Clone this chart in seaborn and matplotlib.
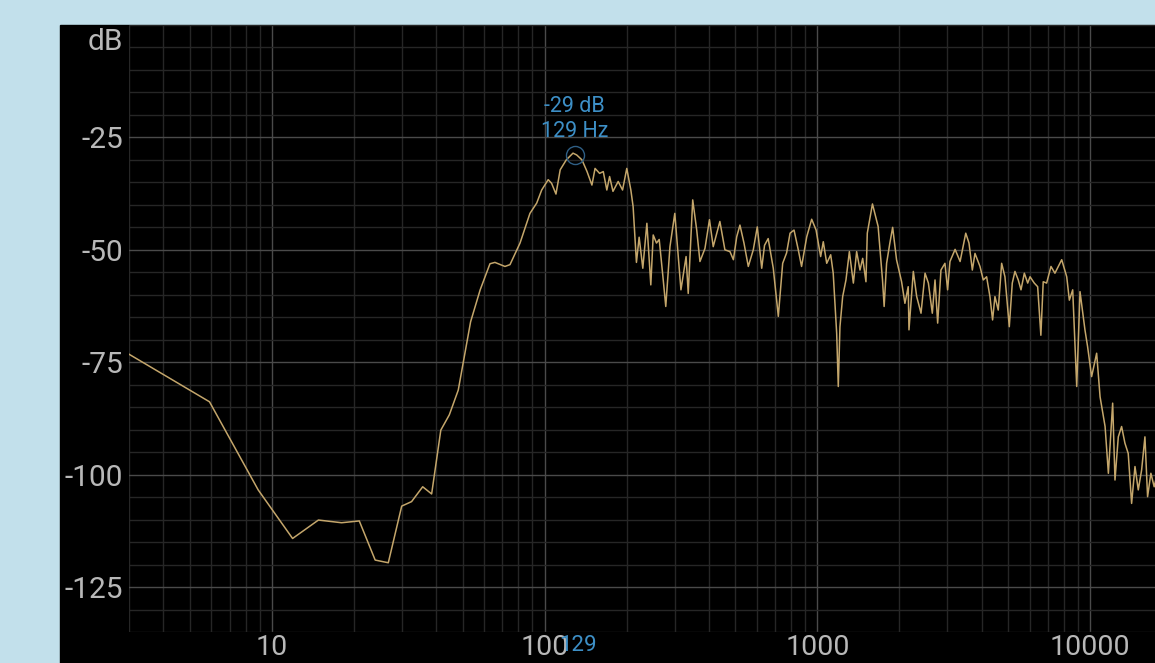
import matplotlib
matplotlib.use("Agg")
import matplotlib.pyplot as plt
from matplotlib.patches import Rectangle
from matplotlib.ticker import LogLocator, MultipleLocator, NullFormatter, FixedLocator
import seaborn as sns

# spectrum (Hz, dB)
freq_hz = [
    2.93, 5.9, 8.9, 11.9, 14.8, 18.0, 20.9, 23.9, 26.7, 29.9, 32.5, 35.7, 38.5,
    41.6, 44.7, 48.2, 53.5, 58, 63, 65.7, 71.5, 74.6, 81.2, 88.3, 93.5, 97.5,
    103, 106, 110, 114, 120, 127, 131, 137, 143, 149, 153, 159, 164, 169, 173,
    178, 186, 193, 200, 207, 211, 217, 222, 229, 237, 245, 250, 257, 263, 271,
    278, 288, 300, 316, 330, 336, 349, 361, 371, 387, 402, 415, 439, 458, 478,
    492, 506, 520, 538, 558, 582, 602, 625, 640, 660, 689, 719, 746, 771, 794,
    821, 851, 875, 914, 953, 989, 1028, 1051, 1082, 1119, 1143, 1177, 1193,
    1210, 1238, 1273, 1310, 1355, 1393, 1433, 1466, 1507, 1524, 1592, 1670,
    1733, 1757, 1794, 1844, 1888, 1951, 2036, 2094, 2153, 2167, 2248, 2313,
    2399, 2482, 2553, 2639, 2700, 2761, 2839, 2936, 3003, 3063, 3199, 3337,
    3500, 3597, 3700, 3784, 3947, 4058, 4174, 4293, 4390, 4478, 4605, 4739,
    4873, 5055, 5184, 5303, 5452, 5580, 5740, 5905, 6024, 6243, 6423, 6600,
    6732, 6928, 7189, 7431, 7870, 8210, 8394, 8635, 8933, 9185, 9576, 9790,
    10130, 10570, 10880, 11350, 11670, 12100, 12340, 12690, 13050, 13420,
    13800, 14200, 14610, 15020, 15450, 15890, 16250, 16710, 17180, 17600,
]
level_db = [
    -72.9, -83.8, -103.4, -114.2, -110.1, -110.7, -110.3, -119.0, -119.6,
    -107.0, -106.0, -102.7, -104.3, -90.1, -86.7, -81.2, -66.0, -58.9, -53.1,
    -52.8, -53.7, -53.3, -48.5, -41.9, -39.6, -36.7, -34.4, -35.2, -37.6,
    -32.2, -30.0, -28.5, -28.9, -30.0, -32.6, -35.6, -31.9, -33.0, -32.6,
    -36.7, -33.7, -37.0, -34.8, -36.7, -31.9, -36.7, -40.4, -52.8, -47.2,
    -54.1, -44.1, -57.8, -46.7, -48.5, -47.7, -55.6, -62.6, -49.3, -41.9,
    -58.9, -51.5, -59.7, -38.9, -45.6, -52.6, -49.7, -43.3, -49.3, -43.7,
    -50.0, -50.4, -52.2, -47.1, -44.5, -48.5, -53.7, -50.0, -44.9, -54.1,
    -49.0, -47.5, -54.1, -64.8, -53.0, -50.7, -46.3, -45.6, -50.0, -53.7,
    -47.1, -43.2, -45.6, -51.5, -48.2, -53.0, -51.1, -55.2, -68.6, -80.4,
    -67.1, -60.4, -56.7, -50.4, -57.4, -50.4, -54.5, -51.9, -57.1, -46.3,
    -39.8, -44.8, -56.7, -62.6, -53.0, -48.5, -45.0, -52.2, -57.1, -61.9,
    -58.2, -67.8, -54.8, -60.4, -64.1, -55.2, -57.4, -64.1, -56.7, -66.3,
    -54.5, -53.0, -58.9, -52.6, -49.9, -52.6, -46.3, -48.5, -54.5, -50.8,
    -53.7, -56.7, -56.0, -60.4, -65.6, -60.4, -63.4, -53.0, -56.0, -67.1,
    -57.4, -54.8, -56.7, -58.9, -55.2, -57.4, -56.0, -57.4, -58.2, -69.0,
    -57.1, -57.4, -53.7, -55.2, -52.2, -56.0, -61.2, -58.9, -80.4, -59.3,
    -67.8, -71.5, -78.2, -73.0, -82.7, -89.3, -99.7, -84.1, -101.2, -91.6,
    -89.3, -93.0, -95.3, -106.4, -98.2, -103.4, -99.0, -91.6, -104.9, -99.7,
    -102.7, -100.0,
]
x_ticks = [10, 100, 1000, 10000]
x_labels = ["10", "100", "1000", "10000"]
y_ticks = [-25, -50, -75, -100, -125]
y_labels = ["-25", "-50", "-75", "-100", "-125"]
peak_hz = 129
peak_db = -29

W, H = 1155, 663
plt.rcParams["font.family"] = ["Roboto", "DejaVu Sans"]

fig = plt.figure(figsize=(W / 100, H / 100), dpi=100, facecolor="#c2e0eb")
# black screen panel behind the axes
fig.patches.append(Rectangle((60 / W, 0), 1 - 60 / W, 1 - 25 / H,
                             transform=fig.transFigure, color="black", zorder=-5))
ax = fig.add_axes([129 / W, 31 / H, 1 - 129 / W, (632 - 25) / H])
ax.set_facecolor("black")
for s in ax.spines.values():
    s.set_visible(False)

sns.lineplot(x=freq_hz, y=level_db, ax=ax, color="#c4a66b", lw=1.1,
             estimator=None, sort=False, zorder=3)

ax.set_xscale("log")
ax.set_xlim(2.99, 17300)
ax.set_ylim(-135, 0)

ax.xaxis.set_major_locator(FixedLocator(x_ticks))
ax.xaxis.set_minor_locator(LogLocator(base=10, subs=range(2, 10)))
ax.xaxis.set_minor_formatter(NullFormatter())
ax.set_xticklabels(x_labels)
ax.yaxis.set_major_locator(FixedLocator(y_ticks))
ax.yaxis.set_minor_locator(MultipleLocator(5))
ax.set_yticklabels(y_labels)

ax.grid(which="major", color="#4a4a4a", lw=1, zorder=1)
ax.grid(which="minor", color="#262626", lw=1, zorder=1)
ax.set_axisbelow(True)
ax.tick_params(which="both", length=0)
ax.tick_params(axis="both", labelcolor="#b8b8b8")
ax.tick_params(axis="x", pad=1.5, labelsize=20.5)
ax.tick_params(axis="y", pad=4.5, labelsize=21.5)

fig.text(123 / W, 1 - 42 / H, "dB", ha="right", va="center",
         color="#b8b8b8", fontsize=21.5)

# peak marker
blue = "#3d8fc6"
ax.plot([peak_hz], [peak_db], marker="o", ms=13, mfc="none", mec="#2f5f85",
        mew=1, zorder=4)
ax.annotate(f"{peak_db} dB", xy=(peak_hz, peak_db), xytext=(0, 35),
            textcoords="offset points", ha="center", va="center",
            color=blue, fontsize=15.5)
ax.annotate(f"{peak_hz} Hz", xy=(peak_hz, peak_db), xytext=(0, 17),
            textcoords="offset points", ha="center", va="center",
            color=blue, fontsize=15.5)
ax.annotate(str(peak_hz), xy=(peak_hz, 0), xycoords=("data", "axes fraction"),
            xytext=(2, -10), textcoords="offset points", ha="center",
            va="center", color=blue, fontsize=16, annotation_clip=False)

fig.savefig("out.png", dpi=100, facecolor=fig.get_facecolor())
plt.close(fig)
